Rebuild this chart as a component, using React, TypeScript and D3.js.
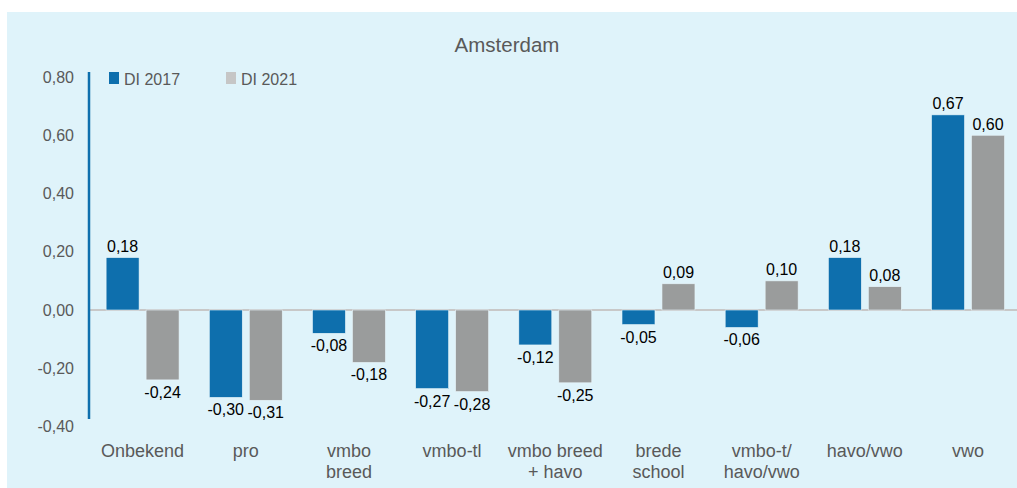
import React from "react";
import * as d3 from "d3";

const categories = [
  "Onbekend",
  "pro",
  "vmbo\nbreed",
  "vmbo-tl",
  "vmbo breed\n+ havo",
  "brede\nschool",
  "vmbo-t/\nhavo/vwo",
  "havo/vwo",
  "vwo",
];
const di2017 = [0.18, -0.3, -0.08, -0.27, -0.12, -0.05, -0.06, 0.18, 0.67];
const di2021 = [-0.24, -0.31, -0.18, -0.28, -0.25, 0.09, 0.1, 0.08, 0.6];
const yTicks = [0.8, 0.6, 0.4, 0.2, 0, -0.2, -0.4];
const seriesNames = ["DI 2017", "DI 2021"];

const W = 1017;
const H = 488;
const BLUE = "#0e6fad";
const GRAY = "#9a9c9c";
const LEGEND_GRAY = "#c6c6c6";
const BG = "#dff3fa";
const FONT = "'Liberation Sans', Arial, sans-serif";

const fmt = (v: number) => d3.format(".2f")(v).replace(".", ",").replace("−", "-");

export default function App() {
  const y = d3.scaleLinear().domain([-0.4, 0.8]).range([426.5, 77]);
  const x0 = d3
    .scaleBand<string>()
    .domain(categories)
    .range([91, 1019.6])
    .paddingInner(0)
    .paddingOuter(0);
  const x1 = d3
    .scaleBand<string>()
    .domain(seriesNames)
    .range([0, x0.bandwidth()])
    .paddingInner(0.175)
    .paddingOuter(0.378);
  const series = [di2017, di2021];
  const colors = [BLUE, GRAY];

  return (
    <svg
      width={W}
      height={H}
      style={{ position: "absolute", left: 0, top: 0, fontFamily: FONT }}
    >
      <rect x={0} y={0} width={W} height={H} fill="#ffffff" />
      <rect x={7} y={12} width={W - 7} height={H - 12} fill={BG} />
      <text x={507} y={51.5} textAnchor="middle" fontSize={20.5} fill="#595959">
        Amsterdam
      </text>
      {/* legend */}
      {seriesNames.map((s, i) => (
        <g key={s} transform={`translate(${109 + i * 117},72)`}>
          <rect x={0} y={0} width={10} height={12} fill={i === 0 ? BLUE : LEGEND_GRAY} />
          <text x={15} y={13} fontSize={16} fill="#595959">
            {s}
          </text>
        </g>
      ))}
      {/* y ticks */}
      {yTicks.map((t) => (
        <text
          key={t}
          x={74}
          y={y(t)}
          dy="0.35em"
          textAnchor="end"
          fontSize={16}
          fill="#595959"
        >
          {fmt(t)}
        </text>
      ))}
      {/* zero line */}
      <line x1={89} x2={W} y1={y(0)} y2={y(0)} stroke="#c8c8c8" strokeWidth={1.8} />
      {/* bars */}
      {categories.map((c, ci) => (
        <g key={c} transform={`translate(${x0(c)},0)`}>
          {series.map((vals, si) => {
            const v = vals[ci];
            const bx = x1(seriesNames[si])!;
            const bw = x1.bandwidth();
            const top = Math.min(y(v), y(0));
            const h = Math.abs(y(v) - y(0));
            return (
              <g key={si}>
                <rect
                  x={bx}
                  y={top}
                  width={bw}
                  height={h}
                  fill={colors[si]}
                  stroke="#e8f6fb"
                  strokeWidth={0.6}
                />
                <text
                  x={bx + bw / 2}
                  y={v >= 0 ? y(v) - 5.5 : y(v) + 18}
                  textAnchor="middle"
                  fontSize={16}
                  fill="#000"
                >
                  {fmt(v)}
                </text>
              </g>
            );
          })}
        </g>
      ))}
      {/* y axis line */}
      <line x1={89} x2={89} y1={72} y2={419} stroke={BLUE} strokeWidth={2.5} />
      {/* category labels */}
      {categories.map((c) => {
        const lines = c.split("\n");
        const cx = x0(c)! + x0.bandwidth() / 2;
        return (
          <text key={c} textAnchor="middle" fontSize={18} fill="#595959">
            {lines.map((l, li) => (
              <tspan key={li} x={cx} y={456.5 + li * 21}>
                {l}
              </tspan>
            ))}
          </text>
        );
      })}
    </svg>
  );
}
